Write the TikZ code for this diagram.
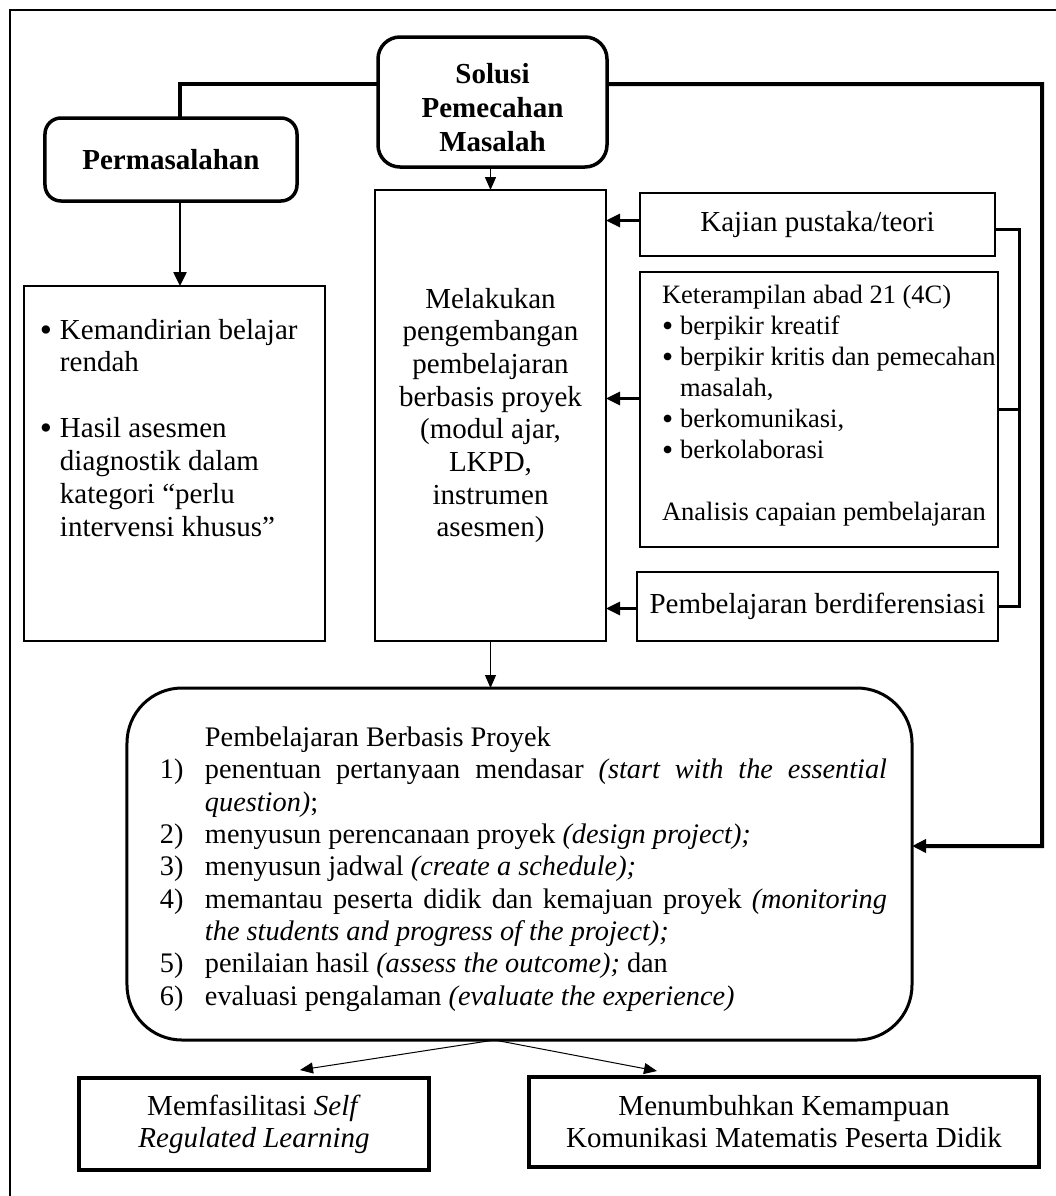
\documentclass[tikz,border=0pt]{standalone}
\usepackage{fontspec}
\usepackage{graphicx}
\setmainfont{Liberation Serif}
\usetikzlibrary{arrows.meta}
\newcommand{\mainsize}{\fontsize{29bp}{32bp}\selectfont}
\newcommand{\mybul}{\raisebox{-2.2bp}{\scalebox{1.2}{\textbullet}}}
\newcommand{\bitem}[2]{\hangindent=#1\hangafter=1\noindent\makebox[#1][l]{\mybul}#2\par}
\newcommand{\nitem}[2]{\hangindent=45bp\hangafter=1\noindent\makebox[45bp][l]{#1}#2\par}
\begin{document}
\begin{tikzpicture}[x=1bp,y=-1bp,
  every node/.style={inner sep=0pt, outer sep=0pt},
  thinbox/.style={draw, line width=1.8bp},
  roundbox/.style={draw, line width=3.5bp, rounded corners=#1},
  outbox/.style={draw, line width=4bp},
  bigline/.style={line width=4bp},
  midline/.style={line width=3bp},
  arr/.style={-{Triangle[length=14bp,width=13bp]}},
  arrsmall/.style={-{Triangle[length=13bp,width=11bp]}},
]
\useasboundingbox (0,0) rectangle (1056,1196);
% frame
\draw[line width=1.5bp] (10,1196) -- (10,10) -- (1056,10);

% nodes
\node[roundbox=22bp, minimum width=229bp, minimum height=130bp] (solusi) at (492.5,102)
 {\parbox[c][130bp][t]{229bp}{\centering\fontsize{29bp}{34bp}\selectfont\bfseries
  \vspace*{26bp}Solusi\\Pemecahan\\Masalah\par}};
\node[roundbox=16bp, minimum width=252bp, minimum height=83bp, font=\mainsize\bfseries] (perm) at (171,159.5) {\raisebox{-2bp}{Permasalahan}};

\node[thinbox, minimum width=301bp, minimum height=355bp] (masalah) at (174.5,463.5)
 {\hspace*{16bp}\parbox[c][355bp][t]{285bp}{\fontsize{29bp}{32.8bp}\selectfont\hyphenpenalty=10000
  \vspace*{33bp}\bitem{20bp}{Kemandirian belajar\\rendah}\vspace{33bp}\bitem{20bp}{Hasil asesmen\\diagnostik dalam\\kategori “perlu\\intervensi khusus”}}};

\node[thinbox, minimum width=231bp, minimum height=451bp, font={\fontsize{29bp}{32.7bp}\selectfont}, align=center] (melak) at (490.5,415.5)
 {Melakukan\\pengembangan\\pembelajaran\\berbasis proyek\\(modul ajar,\\LKPD,\\instrumen\\asesmen)};

\node[thinbox, minimum width=355bp, minimum height=63bp, font=\mainsize] (kajian) at (817.5,224.5) {Kajian pustaka/teori};

\node[thinbox, minimum width=358bp, minimum height=275bp] (ketr) at (819,409.5)
 {\hspace*{22bp}\parbox[c][275bp][t]{336bp}{\fontsize{26.5bp}{31bp}\selectfont\hyphenpenalty=10000
  \vspace*{13bp}\noindent Keterampilan abad 21 (4C)\par
  \bitem{18bp}{berpikir kreatif}
  \bitem{18bp}{\mbox{berpikir kritis dan pemecahan}\\masalah,}
  \bitem{18bp}{berkomunikasi,}
  \bitem{18bp}{berkolaborasi}
  \vspace{31bp}\noindent\mbox{Analisis capaian pembelajaran}\par}};

\node[thinbox, minimum width=361bp, minimum height=69bp, font=\mainsize] (diff) at (817.5,606.5) {Pembelajaran berdiferensiasi};

\node[draw, line width=3bp, rounded corners=55bp, minimum width=785bp, minimum height=352bp] (pbp) at (519.5,864)
 {\hspace*{33bp}\parbox[c][352bp][t]{727bp}{\fontsize{28.3bp}{32.3bp}\selectfont\hyphenpenalty=10000
  \vspace*{39bp}\noindent\hspace*{45bp}Pembelajaran Berbasis Proyek\par
  \nitem{1)}{penentuan pertanyaan mendasar \textit{(start with the essential}\linebreak \textit{question)};}
  \nitem{2)}{menyusun perencanaan proyek \textit{(design project);}}
  \nitem{3)}{menyusun jadwal \textit{(create a schedule);}}
  \nitem{4)}{memantau peserta didik dan kemajuan proyek \textit{(monitoring}\linebreak \textit{the students and progress of the project);}}
  \nitem{5)}{penilaian hasil \textit{(assess the outcome);} dan}
  \nitem{6)}{evaluasi pengalaman \textit{(evaluate the experience)}}}\hspace*{25bp}};

\node[outbox, minimum width=350bp, minimum height=92bp, font=\mainsize, align=center] (srl) at (254,1124) {Memfasilitasi \textit{Self}\\\textit{Regulated Learning}};
\node[outbox, minimum width=510bp, minimum height=90bp, font=\mainsize, align=center] (kom) at (784,1122) {Menumbuhkan Kemampuan\\Komunikasi Matematis Peserta Didik};

% connectors
\draw[bigline] ([xshift=9bp]perm.north) |- ([yshift=18bp]solusi.west);
\coordinate (rc) at (1042,84);
\draw[bigline, arr] ([yshift=18bp]solusi.east) -- (rc) |- ([yshift=18bp]pbp.east);
\draw[line width=2.5bp, arr] ([xshift=9bp]perm.south) -- ([xshift=9bp]perm.south |- masalah.north);
\draw[line width=1.5bp, arrsmall] (melak.north |- solusi.south) -- (melak.north);

\draw[midline, arr] ([yshift=4bp]kajian.west) -- ([yshift=4bp]kajian.west -| melak.east);
\draw[midline, arr] ([yshift=11bp]ketr.west) -- ([yshift=11bp]ketr.west -| melak.east);
\draw[midline, arr] ([yshift=-2bp]diff.west) -- ([yshift=-2bp]diff.west -| melak.east);

\coordinate (bx) at (1019,0);
\draw[midline] ([yshift=-5bp]kajian.east) -| (bx |- diff.east) -- (diff.east);
\draw[midline] (ketr.east) -- (ketr.east -| bx);

\draw[line width=1bp, arrsmall] (melak.south) -- (melak.south |- pbp.north);
\draw[line width=1bp, arrsmall] ([xshift=-25bp]pbp.south) -- ([xshift=46bp,yshift=8bp]srl.north);
\draw[line width=1bp, arrsmall] ([xshift=-25bp]pbp.south) -- ([xshift=-127bp,yshift=6bp]kom.north);
\end{tikzpicture}
\end{document}
